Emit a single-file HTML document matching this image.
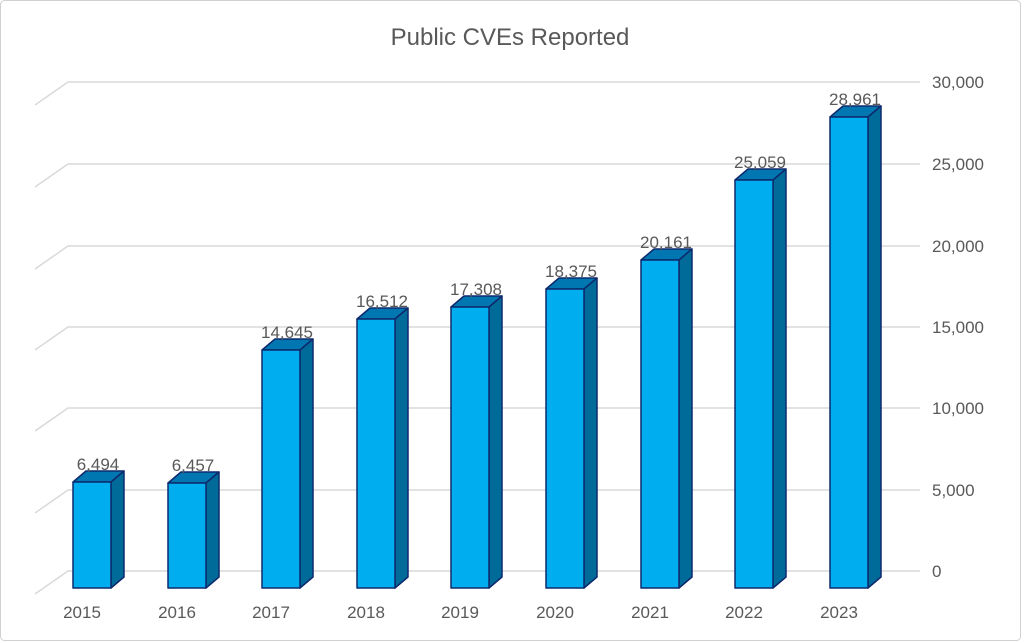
<!DOCTYPE html>
<html><head><meta charset="utf-8"><style>
html,body{margin:0;padding:0;background:#fff;}
svg{display:block;font-family:"Liberation Sans",sans-serif;}
</style></head><body>
<svg width="1024" height="643" viewBox="0 0 1024 643">
<rect x="0.5" y="0.5" width="1020" height="640" rx="4" fill="#fff" stroke="#d0d0d0"/>
<text x="510" y="45" text-anchor="middle" font-size="24" fill="#595959">Public CVEs Reported</text>
<g stroke="#d9d9d9" stroke-width="1.5" fill="none">
<path d="M35,105 L68,82 H920"/>
<path d="M35,187 L68,164 H920"/>
<path d="M35,269 L68,246 H920"/>
<path d="M35,350 L68,327 H920"/>
<path d="M35,431 L68,408 H920"/>
<path d="M35,513 L68,490 H920"/>
<path d="M35,594 L68,571 H920"/>
</g>
<g font-size="17" fill="#595959">
<text x="932" y="88">30,000</text>
<text x="932" y="170">25,000</text>
<text x="932" y="252">20,000</text>
<text x="932" y="333">15,000</text>
<text x="932" y="414">10,000</text>
<text x="932" y="496">5,000</text>
<text x="932" y="577">0</text>
</g>
<g stroke="#0d2a6e" stroke-width="1.5" stroke-linejoin="round">
<path d="M73,482 l13,-11 h38 l-13,11 z" fill="#0077b0"/><path d="M111,482 l13,-11 V577 l-13,11 z" fill="#006a99"/><rect x="73" y="482" width="38" height="106" fill="#00aeef"/>
<path d="M168,483 l13,-11 h38 l-13,11 z" fill="#0077b0"/><path d="M206,483 l13,-11 V577 l-13,11 z" fill="#006a99"/><rect x="168" y="483" width="38" height="105" fill="#00aeef"/>
<path d="M262,350 l13,-11 h38 l-13,11 z" fill="#0077b0"/><path d="M300,350 l13,-11 V577 l-13,11 z" fill="#006a99"/><rect x="262" y="350" width="38" height="238" fill="#00aeef"/>
<path d="M357,319 l13,-11 h38 l-13,11 z" fill="#0077b0"/><path d="M395,319 l13,-11 V577 l-13,11 z" fill="#006a99"/><rect x="357" y="319" width="38" height="269" fill="#00aeef"/>
<path d="M451,307 l13,-11 h38 l-13,11 z" fill="#0077b0"/><path d="M489,307 l13,-11 V577 l-13,11 z" fill="#006a99"/><rect x="451" y="307" width="38" height="281" fill="#00aeef"/>
<path d="M546,289 l13,-11 h38 l-13,11 z" fill="#0077b0"/><path d="M584,289 l13,-11 V577 l-13,11 z" fill="#006a99"/><rect x="546" y="289" width="38" height="299" fill="#00aeef"/>
<path d="M641,260 l13,-11 h38 l-13,11 z" fill="#0077b0"/><path d="M679,260 l13,-11 V577 l-13,11 z" fill="#006a99"/><rect x="641" y="260" width="38" height="328" fill="#00aeef"/>
<path d="M735,180 l13,-11 h38 l-13,11 z" fill="#0077b0"/><path d="M773,180 l13,-11 V577 l-13,11 z" fill="#006a99"/><rect x="735" y="180" width="38" height="408" fill="#00aeef"/>
<path d="M830,117 l13,-11 h38 l-13,11 z" fill="#0077b0"/><path d="M868,117 l13,-11 V577 l-13,11 z" fill="#006a99"/><rect x="830" y="117" width="38" height="471" fill="#00aeef"/>
</g>
<g font-size="17" fill="#595959" text-anchor="middle">
<text x="98" y="470">6,494</text>
<text x="193" y="471">6,457</text>
<text x="287" y="338">14,645</text>
<text x="382" y="307">16,512</text>
<text x="476" y="295">17,308</text>
<text x="571" y="277">18,375</text>
<text x="666" y="248">20,161</text>
<text x="760" y="168">25,059</text>
<text x="855" y="105">28,961</text>
</g>
<g font-size="17" fill="#595959" text-anchor="middle">
<text x="82" y="618">2015</text>
<text x="177" y="618">2016</text>
<text x="271" y="618">2017</text>
<text x="366" y="618">2018</text>
<text x="460" y="618">2019</text>
<text x="555" y="618">2020</text>
<text x="650" y="618">2021</text>
<text x="744" y="618">2022</text>
<text x="839" y="618">2023</text>
</g>
</svg>
</body></html>
